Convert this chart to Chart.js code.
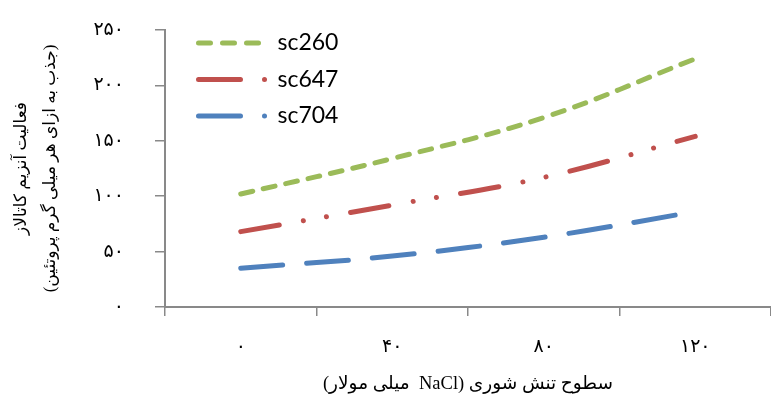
<!DOCTYPE html>
<html>
<head>
<meta charset="utf-8">
<script src="https://cdn.jsdelivr.net/npm/chart.js@4/dist/chart.umd.min.js"></script>
<style>
  html, body { margin: 0; padding: 0; background: #fff; }
  #wrap { width: 771px; height: 396px; }
</style>
</head>
<body>
<div id="wrap"><canvas id="chart" dir="rtl" width="771" height="396"></canvas></div>
<script>
// salinity levels (mM NaCl), shown with Persian digits
const categories = ['۰', '۴۰', '۸۰', '۱۲۰'];
const yTickLabels = ['۰', '۵۰', '۱۰۰', '۱۵۰', '۲۰۰', '۲۵۰'];

const seriesNames = ['sc260', 'sc647', 'sc704'];
const sc260 = [102, 134, 171, 224];
const sc647 = [68, 92, 117, 154];
const sc704 = [35, 46, 63, 86];

const colors = ['#9BBB59', '#C0504D', '#4F81BD'];
const plotDash = [[12, 11], [39, 24.5, 0.01, 23.5, 0.01, 24.5], [42, 24]];
const legendDash = [[12, 12], [42, 24, 0.01, 100], [42, 24, 0.01, 100]];

const xTitle = 'سطوح تنش شوری (NaCl  میلی مولار)';
const yTitle = ['فعالیت آنزیم کاتالاز', '(جذب به ازای هر میلی گرم پروتئین)'];

const axisGray = '#898989';
const persianFont = "'Liberation Serif', 'DejaVu Sans', serif";

const moveLegend = {
  id: 'moveLegend',
  afterLayout(chart) {
    const lg = chart.legend;
    lg.left = 185;
    lg.right = lg.left + 200;
    lg.top = 18;
    lg.bottom = lg.top + 300;
  }
};

const values = [sc260, sc647, sc704];
const datasets = seriesNames.map((name, i) => ({
  label: name,
  data: values[i],
  borderColor: colors[i],
  backgroundColor: colors[i],
  borderWidth: 5,
  borderDash: plotDash[i],
  borderCapStyle: 'round',
  pointRadius: 0,
  tension: 0.4,
  fill: false
}));

new Chart(document.getElementById('chart'), {
  type: 'line',
  data: { labels: categories, datasets: datasets },
  plugins: [moveLegend],
  options: {
    responsive: false,
    animation: false,
    layout: { padding: { top: 30, right: 0, bottom: 0, left: 0 } },
    plugins: {
      tooltip: { enabled: false },
      legend: {
        position: 'chartArea',
        align: 'start',
        fullSize: false,
        labels: {
          usePointStyle: true,
          pointStyleWidth: 67.5,
          padding: 13.5,
          color: '#000',
          font: { family: 'Lato, Carlito, sans-serif', size: 23 },
          generateLabels(chart) {
            return seriesNames.map((name, i) => ({
              text: name,
              fillStyle: colors[i],
              strokeStyle: colors[i],
              lineWidth: 5,
              lineCap: 'round',
              lineDash: legendDash[i],
              lineDashOffset: 0,
              pointStyle: 'line',
              datasetIndex: i,
              hidden: false,
              fontColor: '#000'
            }));
          }
        }
      }
    },
    scales: {
      x: {
        offset: true,
        grid: { display: true, drawOnChartArea: false, drawTicks: true, tickLength: 9, color: axisGray, lineWidth: 1.5, offset: true },
        border: { display: true, color: axisGray, width: 2 },
        ticks: { color: '#000', padding: 20, font: { family: persianFont, size: 19 } },
        title: {
          display: true,
          text: xTitle,
          color: '#000',
          font: { family: persianFont, size: 18.5 },
          padding: { top: 0, bottom: 1 }
        },
        afterFit(scale) { scale.height = 89; }
      },
      y: {
        min: 0,
        max: 250,
        ticks: {
          stepSize: 50,
          color: '#000',
          padding: 31,
          font: { family: persianFont, size: 19 },
          callback: (value, index) => yTickLabels[index]
        },
        grid: { display: true, drawOnChartArea: false, drawTicks: true, tickLength: 10, color: axisGray, lineWidth: 1.5 },
        border: { display: true, color: axisGray, width: 2 },
        title: {
          display: true,
          text: yTitle,
          color: '#000',
          font: { family: persianFont, size: 17, lineHeight: 1.7 },
          padding: { top: 7, bottom: 0 }
        },
        afterFit(scale) {
          scale.width = 165;
          scale.paddingTop = 0;
          scale.paddingBottom = 0;
        }
      }
    }
  }
});
</script>
</body>
</html>
